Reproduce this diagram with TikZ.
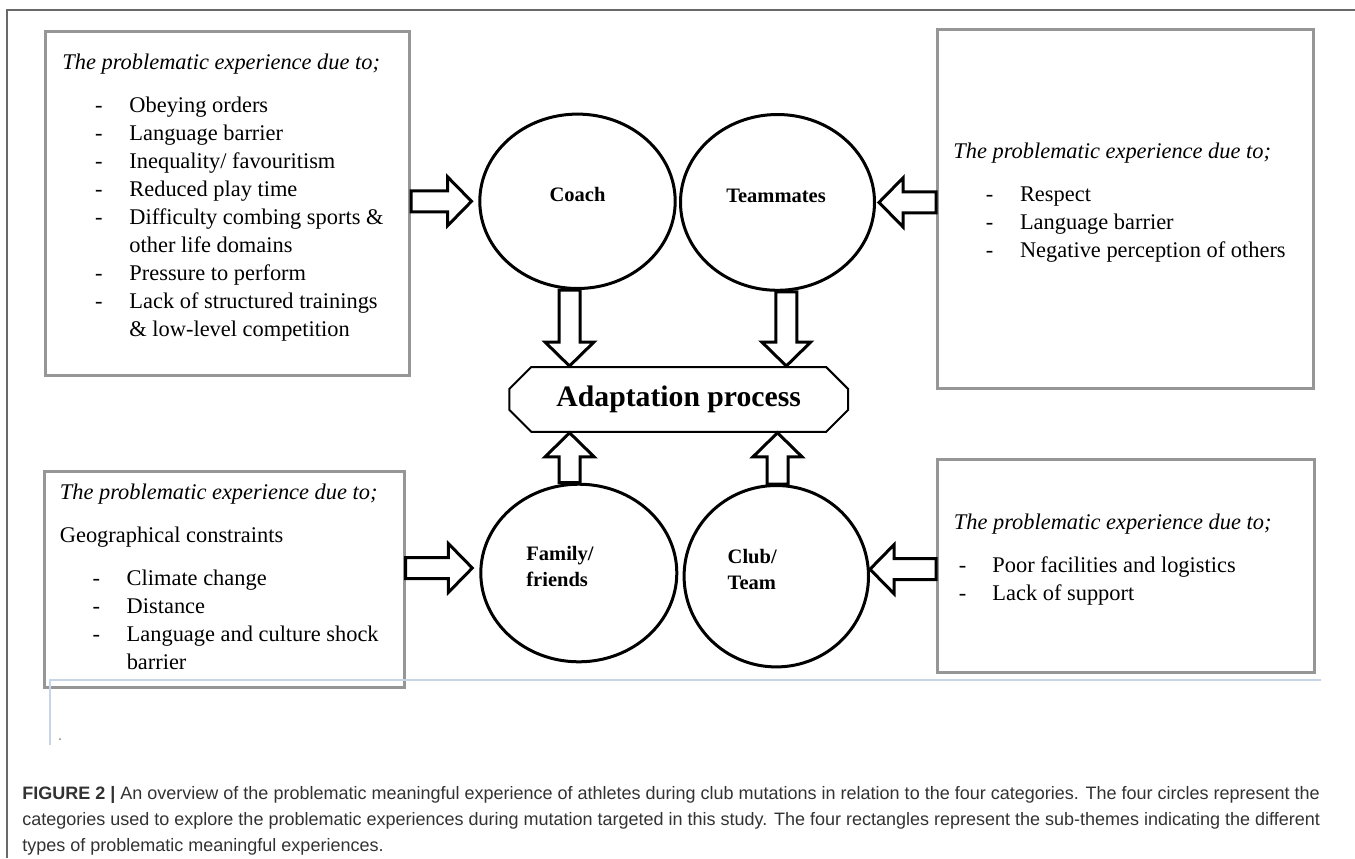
\documentclass[tikz,border=0pt]{standalone}
\usepackage{fontspec}
\setmainfont{Liberation Serif}
\newfontfamily\capfont{Liberation Sans}
\usepackage{xcolor}
\definecolor{boxgray}{RGB}{150,150,150}
\definecolor{framegray}{RGB}{105,105,105}
\definecolor{rulerblue}{RGB}{200,212,232}
\definecolor{captext}{RGB}{50,50,50}
\usepackage{tikz}
\usetikzlibrary{shapes.geometric,shapes.misc,calc,positioning}

% block arrow sizes
\def\fatsw{5.25pt}
\def\fathw{12.25pt}
\def\fathl{12pt}

\tikzset{
    probbox/.style={rectangle, draw=boxgray, line width=1.5pt, inner sep=0pt},
    probtext/.style={anchor=base west, inner sep=0pt, font=\fontsize{11.2}{14}\selectfont},
    category/.style={ellipse, draw, line width=1.5pt, fill=white, inner sep=0pt},
    catlabel/.style={inner sep=0pt, align=left, font=\bfseries\fontsize{10.25}{13}\selectfont},
    fatarrow/.style={draw, fill=white, line width=1.5pt, line join=miter,
        to path={
            ($(\tikztostart)!\fatsw!90:(\tikztotarget)$)
            -- ($($(\tikztotarget)!\fathl!(\tikztostart)$)!\fatsw!-90:(\tikztostart)$)
            -- ($($(\tikztotarget)!\fathl!(\tikztostart)$)!\fathw!-90:(\tikztostart)$)
            -- (\tikztotarget)
            -- ($($(\tikztotarget)!\fathl!(\tikztostart)$)!\fathw!90:(\tikztostart)$)
            -- ($($(\tikztotarget)!\fathl!(\tikztostart)$)!\fatsw!90:(\tikztostart)$)
            -- ($(\tikztostart)!\fatsw!-90:(\tikztotarget)$) -- cycle
        }}
}

\begin{document}
\begin{tikzpicture}[x=0.5pt, y=-0.5pt]
    \useasboundingbox (0,0) rectangle (1355,858);

    % frame
    \draw[framegray, line width=0.9pt] (1355,10) -- (7,10) -- (7,858);

    % sub-theme boxes
    \node[probbox, minimum width=182pt, minimum height=172pt] (tlbox) at (227.5,203.5) {};
    \node[probbox, minimum width=188pt, minimum height=179.6pt] (trbox) at (1125.5,209) {};
    \node[probbox, minimum width=180pt, minimum height=108pt] (blbox) at (224,579) {};
    \node[probbox, minimum width=188.5pt, minimum height=106.25pt] (brbox) at (1126,566) {};

    \node[probtext] (tltext) at (62,69) {\begin{tabular}[t]{@{\hspace{16.4pt}}l@{\hspace{13.4pt}}l@{}}
        \multicolumn{2}{@{}l@{}}{\textit{The problematic experience due to;}}\\[7.5pt]
        - & Obeying orders\\
        - & Language barrier\\
        - & Inequality/ favouritism\\
        - & Reduced play time\\
        - & Difficulty combing sports \&\\
          & other life domains\\
        - & Pressure to perform\\
        - & Lack of structured trainings\\
          & \& low-level competition
    \end{tabular}};
    \node[probtext] (trtext) at (953,158) {\begin{tabular}[t]{@{\hspace{16.2pt}}l@{\hspace{13.4pt}}l@{}}
        \multicolumn{2}{@{}l@{}}{\textit{The problematic experience due to;}}\\[7.5pt]
        - & Respect\\
        - & Language barrier\\
        - & Negative perception of others
    \end{tabular}};
    \node[probtext] (bltext) at (59.5,499) {\begin{tabular}[t]{@{\hspace{16.4pt}}l@{\hspace{13.3pt}}l@{}}
        \multicolumn{2}{@{}l@{}}{\textit{The problematic experience due to;}}\\[7.5pt]
        \multicolumn{2}{@{}l@{}}{Geographical constraints}\\[7.5pt]
        - & Climate change\\
        - & Distance\\
        - & Language and culture shock\\
          & barrier
    \end{tabular}};
    \node[probtext] (brtext) at (953.5,529) {\begin{tabular}[t]{@{\hspace{2.45pt}}l@{\hspace{13.1pt}}l@{}}
        \multicolumn{2}{@{}l@{}}{\textit{The problematic experience due to;}}\\[7.5pt]
        - & Poor facilities and logistics\\
        - & Lack of support
    \end{tabular}};

    % categories
    \node[category, minimum width=97.7pt, minimum height=87.2pt] (coach) at (577.5,201.3) {};
    \node[category, minimum width=97pt, minimum height=87.9pt] (team) at (777.5,202.4) {};
    \node[category, minimum width=98pt, minimum height=88.8pt] (family) at (578.8,573) {};
    \node[category, minimum width=92.2pt, minimum height=90.7pt] (club) at (776.3,576.2) {};

    \node[catlabel] (coachtxt) at ([yshift=3.5pt]coach.center) {Coach};
    \node[catlabel] (teamtxt) at ([xshift=-0.75pt, yshift=3.2pt]team.center) {Teammates};
    \node[catlabel, anchor=west] (familytxt) at ([xshift=-26.4pt, yshift=3.35pt]family.center) {Family/\\friends};
    \node[catlabel, anchor=west] (clubtxt) at ([xshift=-24.5pt, yshift=3.6pt]club.center) {Club/\\Team};

    \node[chamfered rectangle, chamfered rectangle xsep=5.5pt, chamfered rectangle ysep=5.5pt,
        draw, line width=1pt, minimum width=169.4pt, minimum height=32.4pt, inner sep=0pt,
        font=\bfseries\fontsize{14.85}{18}\selectfont] (adapt) at (678.7,399.4) {Adaptation process};

    % block arrows
    \coordinate (coachin) at ([xshift=-3.4pt]coach.west);
    \coordinate (teamin) at ([xshift=1.5pt]team.east);
    \coordinate (familyin) at ([shift={(-3.5pt,2.5pt)}]family.west);
    \coordinate (clubin) at ([yshift=3.5pt]club.east);

    \draw[fatarrow] (tlbox.east |- coachin) to (coachin);
    \draw[fatarrow] (trbox.west |- teamin) to (teamin);
    \draw[fatarrow] (blbox.east |- familyin) to (familyin);
    \draw[fatarrow] (brbox.west |- clubin) to (clubin);

    \draw[fatarrow] ([xshift=-4pt]coach.south) to ([xshift=-4pt]coach.south |- adapt.north);
    \draw[fatarrow] ([xshift=4.4pt]team.south) to ([xshift=4.4pt]team.south |- adapt.north);
    \draw[fatarrow] ([xshift=-4.6pt]family.north) to ([xshift=-4.6pt]family.north |- adapt.south);
    \draw[fatarrow] ([xshift=0.6pt]club.north) to ([xshift=0.6pt]club.north |- adapt.south);

    % page guide
    \draw[rulerblue, line width=0.6pt] (1321,680) -- (50,680) -- (50,745);
    \fill[gray] (60,739) circle (0.5pt);

    % caption (base = last line)
    \node[anchor=base west, inner sep=0pt, align=left, text=captext,
        font=\capfont\fontsize{9}{13}\selectfont] (caption) at (22,851)
        {\textbf{FIGURE 2 |} An overview of the problematic meaningful experience of athletes during club mutations in relation to the four categories. The four circles represent the\\
        categories used to explore the problematic experiences during mutation targeted in this study. The four rectangles represent the sub-themes indicating the different\\
        types of problematic meaningful experiences.};
\end{tikzpicture}
\end{document}
